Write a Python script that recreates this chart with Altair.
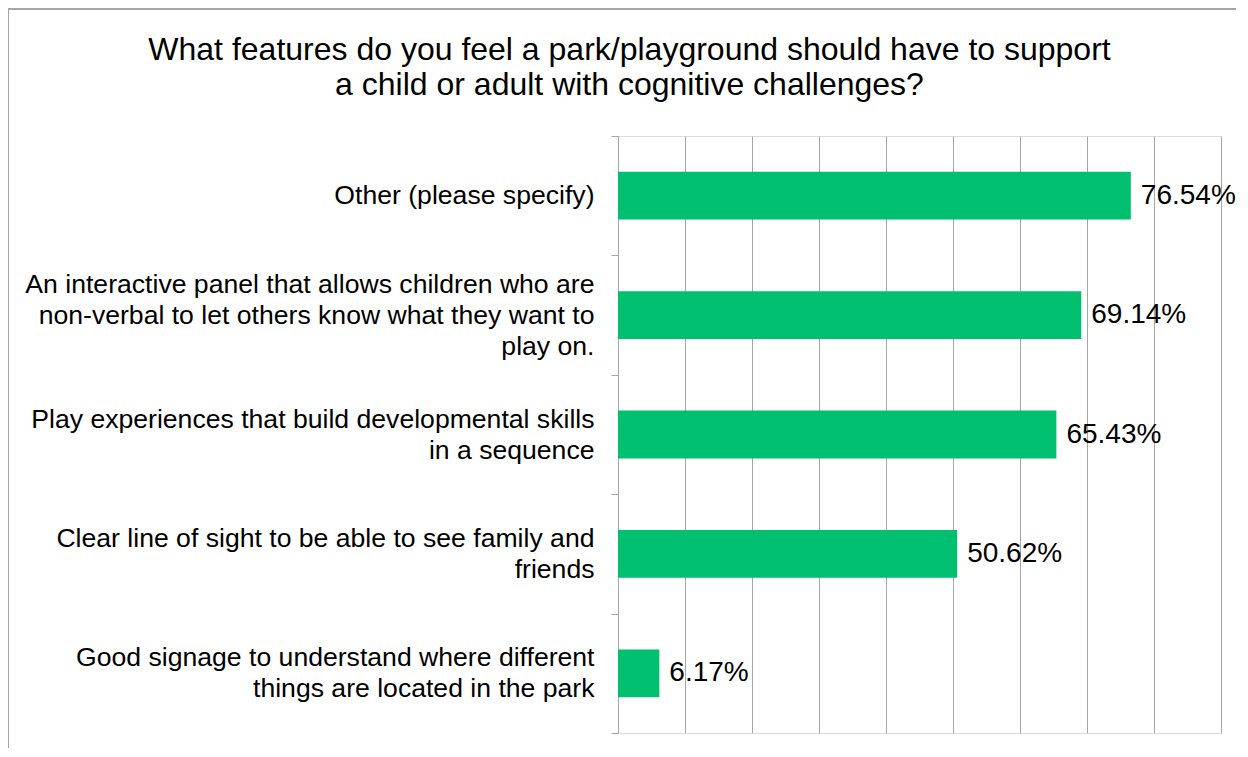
import altair as alt
import pandas as pd

categories = [
    "Other (please specify)",
    "An interactive panel that allows children who are|non-verbal to let others know what they want to|play on.",
    "Play experiences that build developmental skills|in a sequence",
    "Clear line of sight to be able to see family and|friends",
    "Good signage to understand where different|things are located in the park",
]
values = [0.7654, 0.6914, 0.6543, 0.5062, 0.0617]
labels = ["76.54%", "69.14%", "65.43%", "50.62%", "6.17%"]
title_lines = [
    "What features do you feel a park/playground should have to support",
    "a child or adult with cognitive challenges?",
]

df = pd.DataFrame({"cat": categories, "val": values, "lbl": labels})

FONT = "Liberation Sans"
GREEN = "#00BF6F"
GRAY = "#A6A6A6"
LH = 31

x_enc = alt.X("val:Q", scale=alt.Scale(domain=[0, 0.9], nice=False),
              axis=alt.Axis(values=[i / 10 for i in range(10)], labels=False, ticks=False,
                            domain=False, grid=True, gridColor=GRAY, gridWidth=1, title=None))
y_enc = alt.Y("cat:N", sort=categories,
              scale=alt.Scale(paddingInner=0, paddingOuter=0),
              axis=alt.Axis(title=None, labelExpr="split(datum.label, '|')",
                            labelFont=FONT, labelFontSize=26.6, labelColor="#000000",
                            labelLineHeight=LH, labelPadding=17, labelLimit=700,
                            labelOffset={
                                "condition": [
                                    {"test": "length(split(datum.value, '|')) == 3", "value": -LH},
                                    {"test": "length(split(datum.value, '|')) == 2", "value": -LH / 2},
                                ],
                                "value": 0,
                            },
                            tickBand="extent", tickSize=7, tickColor=GRAY,
                            domainColor=GRAY, grid=False))

bars = alt.Chart(df).mark_bar(color=GREEN, height=alt.RelativeBandSize(0.4)).encode(x=x_enc, y=y_enc)
text = alt.Chart(df).mark_text(align="left", baseline="middle", dx=10, font=FONT,
                               fontSize=28, color="#000000").encode(
    x="val:Q", y=alt.Y("cat:N", sort=categories), text="lbl:N")

frame = alt.Chart(alt.Data(values=[{"a": 1}])).mark_rect(
    fill=None, stroke=GRAY, strokeWidth=2).encode(
    x=alt.value(-610), y=alt.value(-127), x2=alt.value(800), y2=alt.value(800))

chart = alt.layer(frame, bars, text).properties(
    width=603, height=597,
    autosize=alt.AutoSizeParams(type="none"),
    padding={"left": 610, "top": 128, "right": 15, "bottom": 15},
    title=alt.TitleParams(text=title_lines, font=FONT, fontSize=32, fontWeight="normal",
                          color="#000000", anchor="middle", frame="group",
                          lineHeight=35, offset=0, dy=94, dx=-290),
).configure_view(stroke=None).configure(background="white")

chart.save("out.html", embed_options={"renderer": "svg", "actions": False})
